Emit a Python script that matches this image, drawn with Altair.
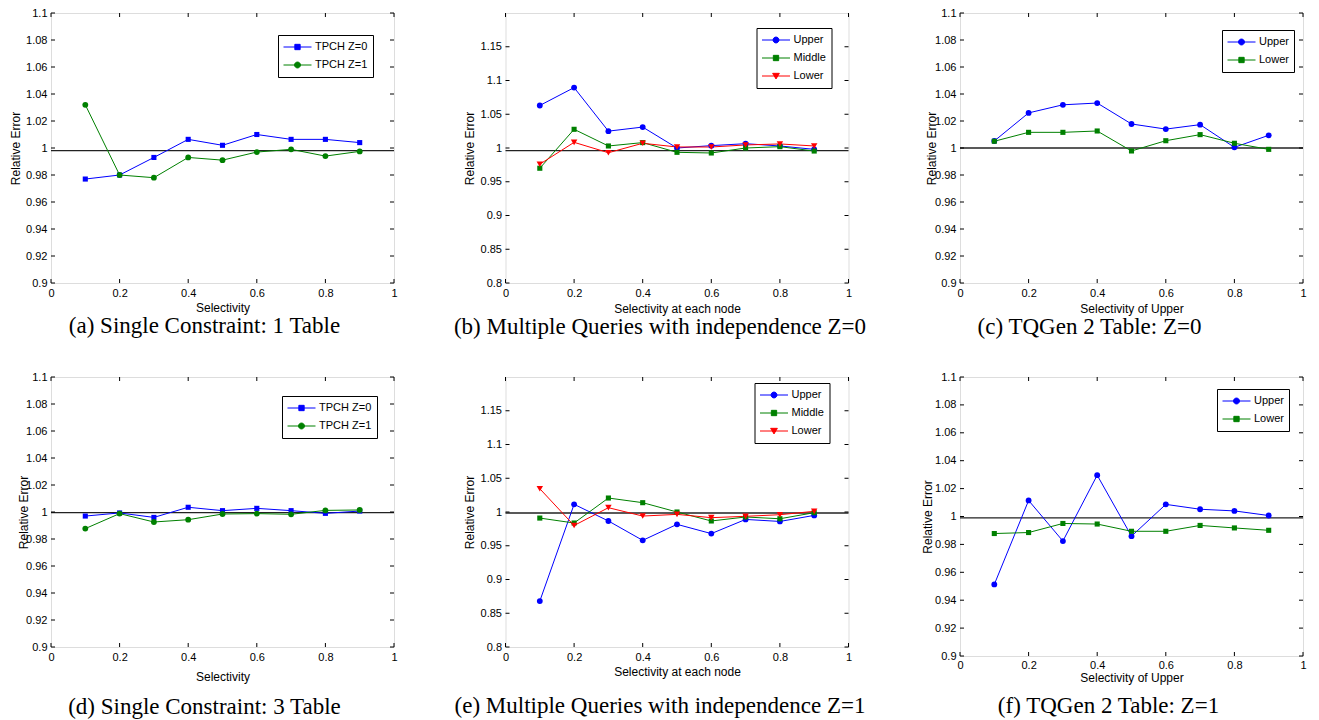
import altair as alt
import pandas as pd

X = [0.1, 0.2, 0.3, 0.4, 0.5, 0.6, 0.7, 0.8, 0.9]
XTICKS = [0, 0.2, 0.4, 0.6, 0.8, 1]
YTICKS_A = [0.9, 0.92, 0.94, 0.96, 0.98, 1.0, 1.02, 1.04, 1.06, 1.08, 1.1]
YTICKS_B = [0.8, 0.85, 0.9, 0.95, 1.0, 1.05, 1.1, 1.15]

# (a) Single Constraint: 1 Table
a_z0 = [0.977, 0.980, 0.993, 1.0064, 1.002, 1.010, 1.0064, 1.0064, 1.004]
a_z1 = [1.032, 0.980, 0.978, 0.993, 0.991, 0.997, 0.999, 0.994, 0.9975]
# (b) Multiple Queries with independence Z=0
b_upper = [1.063, 1.0895, 1.025, 1.031, 1.000, 1.0035, 1.0064, 1.003, 0.998]
b_middle = [0.970, 1.0277, 1.003, 1.008, 0.9936, 0.9926, 1.000, 1.002, 0.9955]
b_lower = [0.976, 1.0084, 0.993, 1.007, 1.0015, 1.0015, 1.0045, 1.006, 1.003]
# (c) TQGen 2 Table: Z=0
c_upper = [1.0052, 1.026, 1.032, 1.0333, 1.0178, 1.014, 1.0173, 1.0005, 1.0094]
c_lower = [1.005, 1.0116, 1.0116, 1.0126, 0.9978, 1.0054, 1.0099, 1.0035, 0.999]
# (d) Single Constraint: 3 Table
d_z0 = [0.997, 0.9993, 0.996, 1.0035, 1.001, 1.0027, 1.001, 0.999, 1.0007]
d_z1 = [0.9877, 0.9988, 0.9926, 0.9943, 0.9985, 0.9988, 0.9983, 1.0012, 1.0015]
# (e) Multiple Queries with independence Z=1
e_upper = [0.868, 1.0114, 0.9867, 0.958, 0.9817, 0.968, 0.989, 0.986, 0.995]
e_middle = [0.991, 0.9837, 1.0207, 1.0138, 1.000, 0.9867, 0.9926, 0.990, 0.999]
e_lower = [1.0345, 0.980, 1.0064, 0.994, 0.9965, 0.9916, 0.9936, 0.996, 1.001]
# (f) TQGen 2 Table: Z=1
f_upper = [0.9513, 1.0115, 0.9824, 1.0296, 0.9859, 1.0087, 1.0052, 1.004, 1.0007]
f_lower = [0.9878, 0.9885, 0.995, 0.9946, 0.9894, 0.9894, 0.9936, 0.9918, 0.9901]

# horizontal reference line level in each panel
REF = [0.998, 0.996, 1.0, 0.9995, 0.9985, 0.999]

CAPTIONS = [
    "(a) Single Constraint: 1 Table",
    "(b) Multiple Queries with independence Z=0",
    "(c) TQGen 2 Table: Z=0",
    "(d) Single Constraint: 3 Table",
    "(e) Multiple Queries with independence Z=1",
    "(f) TQGen 2 Table: Z=1",
]

BLUE, GREEN, RED = "#0000ff", "#008000", "#ff0000"
SANS = "Liberation Sans"
SERIF = "Liberation Serif"

SHAPE = {"sq": "square", "ci": "circle", "tri": "triangle-down"}
MSIZE = {"sq": 26, "ci": 34, "tri": 42}
LINE = "M-1,0L1,0"
LEGPATH = {
    "sq": LINE + "M-0.19,-0.19L0.19,-0.19L0.19,0.19L-0.19,0.19Z",
    "ci": LINE + "M0.21,0A0.21,0.21,0,1,1,-0.21,0A0.21,0.21,0,1,1,0.21,0Z",
    "tri": LINE + "M-0.24,-0.19L0.24,-0.19L0,0.21Z",
}
W = 343


def panel(series, ydom, yticks, xtitle, caption, refy, legxy, h, ytx, xty, capoff, capdx, lpad=4):
    rows = []
    for name, vals, color, mk in series:
        for xv, yv in zip(X, vals):
            rows.append({"x": xv, "y": yv, "s": name})
    df = pd.DataFrame(rows)
    xs = alt.Scale(domain=[0, 1], nice=False, zero=False)
    ys = alt.Scale(domain=ydom, nice=False, zero=False)
    xaxis = alt.Axis(values=XTICKS, format="~g", ticks=False, domain=False, grid=False,
                     labelPadding=lpad, labelFont=SANS, labelFontSize=11, labelColor="black",
                     labelOverlap=False, labelFlush=False,
                     title=xtitle, titleFont=SANS, titleFontSize=12, titleFontWeight="normal",
                     titleColor="black", titleX=W / 2, titleY=xty, titleBaseline="middle")
    yaxis = alt.Axis(values=yticks, format="~g", ticks=False, domain=False, grid=False,
                     labelPadding=4, labelFont=SANS, labelFontSize=11, labelColor="black",
                     labelOverlap=False, labelFlush=False,
                     title="Relative Error", titleFont=SANS, titleFontSize=12,
                     titleFontWeight="normal", titleColor="black", titleX=ytx, titleY=h / 2,
                     titleBaseline="middle")
    X_ = lambda f: alt.X(f, scale=xs, axis=xaxis, title=xtitle)
    Y_ = lambda f: alt.Y(f, scale=ys, axis=yaxis, title="Relative Error")

    layers = []
    layers.append(alt.Chart(pd.DataFrame({"r": [refy]})).mark_rule(color="#222222", strokeWidth=1.3)
                  .encode(y=Y_("r:Q")))
    xt = pd.DataFrame({"t": XTICKS})
    yt = pd.DataFrame({"t": yticks})
    for y1, y2 in [(h, h - 4), (0, 4)]:
        layers.append(alt.Chart(xt).mark_rule(color="black", strokeWidth=1)
                      .encode(x=X_("t:Q"), y=alt.value(y1), y2=alt.value(y2)))
    for x1, x2 in [(0, 4), (W, W - 4)]:
        layers.append(alt.Chart(yt).mark_rule(color="black", strokeWidth=1)
                      .encode(y=Y_("t:Q"), x=alt.value(x1), x2=alt.value(x2)))
    base = alt.Chart(df)
    for name, vals, color, mk in series:
        layers.append(base.transform_filter(alt.datum.s == name)
                      .mark_line(color=color, strokeWidth=1)
                      .encode(x=X_("x:Q"), y=Y_("y:Q")))
    for name, vals, color, mk in series:
        layers.append(base.transform_filter(alt.datum.s == name)
                      .mark_point(color=color, filled=True, opacity=1, shape=SHAPE[mk], size=MSIZE[mk])
                      .encode(x=X_("x:Q"), y=Y_("y:Q")))
    names = [s[0] for s in series]
    colors = [s[2] for s in series]
    leg = alt.Legend(orient="none", legendX=legxy[0], legendY=legxy[1], title=None,
                     strokeColor="black", fillColor="white", padding=5,
                     symbolSize=784, symbolStrokeWidth=1, symbolOpacity=1,
                     labelFont=SANS, labelFontSize=11, labelColor="black", labelOffset=3,
                     clipHeight=14, rowPadding=4)
    layers.append(base.mark_point(filled=True, opacity=0, size=784).encode(
        x=X_("x:Q"), y=Y_("y:Q"),
        fill=alt.Fill("s:N", scale=alt.Scale(domain=names, range=colors), legend=leg),
        stroke=alt.Stroke("s:N", scale=alt.Scale(domain=names, range=colors), legend=leg),
        shape=alt.Shape("s:N", scale=alt.Scale(domain=names, range=[LEGPATH[s[3]] for s in series]), legend=leg),
    ))
    return alt.layer(*layers).properties(
        width=W, height=h,
        title=alt.TitleParams(text=caption, orient="bottom", font=SERIF, fontSize=23,
                              fontWeight="normal", color="black", offset=capoff, anchor="middle",
                              dx=capdx),
    )


H = 270
pa = panel([("TPCH Z=0", a_z0, BLUE, "sq"), ("TPCH Z=1", a_z1, GREEN, "ci")],
           [0.9, 1.1], YTICKS_A, "Selectivity", CAPTIONS[0], REF[0], (227, 22), H, -36, 24, 2, -18)
pb = panel([("Upper", b_upper, BLUE, "ci"), ("Middle", b_middle, GREEN, "sq"), ("Lower", b_lower, RED, "tri")],
           [0.8, 1.2], YTICKS_B, "Selectivity at each node", CAPTIONS[1], REF[1], (251, 15), H, -36, 25, 2, -17)
pc = panel([("Upper", c_upper, BLUE, "ci"), ("Lower", c_lower, GREEN, "sq")],
           [0.9, 1.1], YTICKS_A, "Selectivity of Upper", CAPTIONS[2], REF[2], (262, 17), H, -29, 25, 2, -42)
pd_ = panel([("TPCH Z=0", d_z0, BLUE, "sq"), ("TPCH Z=1", d_z1, GREEN, "ci")],
            [0.9, 1.1], YTICKS_A, "Selectivity", CAPTIONS[3], REF[3], (231, 19), H, -28, 29, 14, -18)
pe = panel([("Upper", e_upper, BLUE, "ci"), ("Middle", e_middle, GREEN, "sq"), ("Lower", e_lower, RED, "tri")],
           [0.8, 1.2], YTICKS_B, "Selectivity at each node", CAPTIONS[4], REF[4], (249, 6), H, -36, 24, 18, -17)
pf = panel([("Upper", f_upper, BLUE, "ci"), ("Lower", f_lower, GREEN, "sq")],
           [0.9, 1.1], YTICKS_A, "Selectivity of Upper", CAPTIONS[5], REF[5], (257, 12), 279, -33, 21, 12, -23, lpad=3)

chart = alt.concat(pa, pb, pc, pd_, pe, pf, columns=3, spacing={"row": 94, "column": 111.5},
                   bounds="flush", align="each").resolve_scale(
    fill="independent", stroke="independent", shape="independent"
).properties(
    padding={"left": 0, "top": -2, "right": 0, "bottom": 0}
).configure_view(stroke="black", strokeWidth=1.6).configure_legend(strokeWidth=1.5).configure(
    background="white")

chart.save("out.html", embed_options={"renderer": "svg", "actions": False})
